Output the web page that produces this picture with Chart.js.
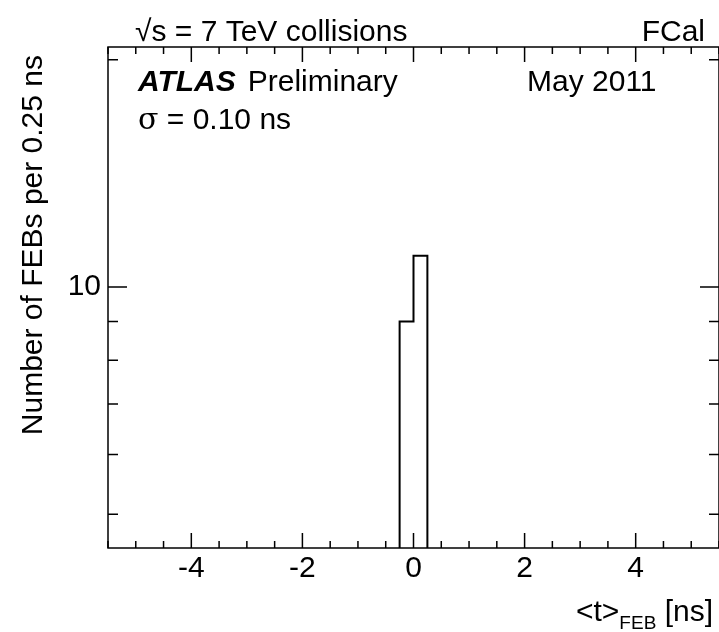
<!DOCTYPE html>
<html><head><meta charset="utf-8">
<script src="https://cdn.jsdelivr.net/npm/chart.js@4"></script>
<style>body{margin:0;background:#fff}canvas{display:block}</style>
</head><body>
<canvas id="c" width="719" height="632"></canvas>
<script>
// histogram bins (ns) and counts
const binEdges = [-0.25, 0.0, 0.25];
const counts = [9, 11];
const xTicks = [-4, -2, 0, 2, 4];
const yTicks = [10];
const yMinor = [5, 6, 7, 8, 9, 20];
const X_MIN = -5.5, X_MAX = 5.5, Y_MIN = 4.51, Y_MAX = 20.8;

const pts = [{x: binEdges[0], y: Y_MIN}];
counts.forEach((c, i) => { pts.push({x: binEdges[i], y: c}); pts.push({x: binEdges[i+1], y: c}); });
pts.push({x: binEdges[binEdges.length-1], y: Y_MIN});

const FONT = '"Liberation Sans", Arial, sans-serif';
const FS = 30;

const frame = {
  id: 'frame',
  afterDraw(chart) {
    const {ctx, chartArea: a, scales: {x, y}} = chart;
    ctx.save();
    ctx.strokeStyle = '#000'; ctx.lineWidth = 1.5;
    ctx.strokeRect(a.left, a.top, a.right - a.left, a.bottom - a.top);
    ctx.beginPath();
    for (let v = -5.5; v <= 5.51; v += 0.5) {
      const px = x.getPixelForValue(v);
      const len = (Math.abs(v % 2) < 1e-6) ? 15 : 7;
      ctx.moveTo(px, a.bottom); ctx.lineTo(px, a.bottom - len);
      ctx.moveTo(px, a.top); ctx.lineTo(px, a.top + len);
    }
    yTicks.concat(yMinor).forEach(v => {
      const py = y.getPixelForValue(v);
      const len = yTicks.includes(v) ? 19 : 10;
      ctx.moveTo(a.left, py); ctx.lineTo(a.left + len, py);
      ctx.moveTo(a.right, py); ctx.lineTo(a.right - len, py);
    });
    ctx.stroke();
    ctx.fillStyle = '#000';
    ctx.font = FS + 'px ' + FONT;
    ctx.textAlign = 'center'; ctx.textBaseline = 'alphabetic';
    xTicks.forEach(v => ctx.fillText(String(v), x.getPixelForValue(v), 577));
    ctx.textAlign = 'right'; ctx.textBaseline = 'middle';
    yTicks.forEach(v => ctx.fillText(String(v), 101, y.getPixelForValue(v)));
    // axis titles
    ctx.save();
    ctx.translate(42, 55); ctx.rotate(-Math.PI / 2);
    ctx.textAlign = 'right'; ctx.textBaseline = 'alphabetic';
    ctx.fillText('Number of FEBs per 0.25 ns', 0, 0);
    ctx.restore();
    ctx.textAlign = 'right'; ctx.textBaseline = 'alphabetic';
    ctx.fillText('[ns]', 713, 621);
    const w = ctx.measureText(' [ns]').width;
    ctx.font = '19px ' + FONT;
    ctx.fillText('FEB', 713 - w, 629);
    const w2 = ctx.measureText('FEB').width;
    ctx.font = FS + 'px ' + FONT;
    ctx.fillText('<t>', 713 - w - w2, 621);
    // top labels
    ctx.textAlign = 'left';
    ctx.fillText('\u221As = 7 TeV collisions', 135, 41);
    ctx.textAlign = 'right';
    ctx.fillText('FCal', 705, 41);
    ctx.textAlign = 'left';
    ctx.font = 'italic bold ' + FS + 'px ' + FONT;
    ctx.fillText('ATLAS', 138, 91);
    const wa = ctx.measureText('ATLAS').width;
    ctx.font = FS + 'px ' + FONT;
    ctx.fillText('Preliminary', 138 + wa + 12, 91);
    ctx.fillText('May 2011', 527, 91);
    ctx.font = FS + 'px "DejaVu Serif", serif';
    ctx.fillText('\u03C3', 138, 129);
    const ws = ctx.measureText('\u03C3').width;
    ctx.font = FS + 'px ' + FONT;
    ctx.fillText(' = 0.10 ns', 138 + ws, 129);
    ctx.restore();
  }
};

new Chart(document.getElementById('c'), {
  type: 'scatter',
  data: { datasets: [{ data: pts, showLine: true, borderColor: '#000', borderWidth: 2, pointRadius: 0, fill: false, tension: 0 }] },
  options: {
    responsive: false, animation: false,
    layout: { padding: { left: 108, top: 47, right: 0, bottom: 84 } },
    plugins: { legend: { display: false }, tooltip: { enabled: false } },
    scales: {
      x: { type: 'linear', min: X_MIN, max: X_MAX, display: false },
      y: { type: 'logarithmic', min: Y_MIN, max: Y_MAX, display: false }
    }
  },
  plugins: [frame]
});
</script>
</body></html>
